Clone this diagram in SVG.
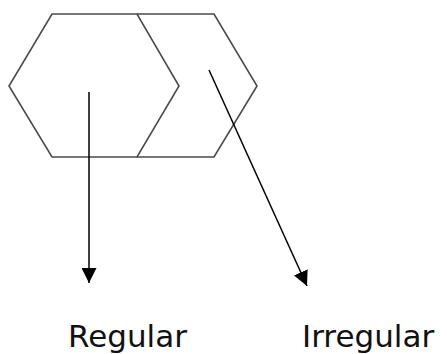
<svg xmlns="http://www.w3.org/2000/svg" width="447" height="354" viewBox="0 0 447 354">
<style>
.shape{fill:none;stroke:#4a4a4a;stroke-width:1.6;stroke-linejoin:miter}
.conn{stroke:#000;stroke-width:1.5;fill:none}
.lbl{font-family:"DejaVu Sans",Verdana,sans-serif;font-size:31px;fill:#111}
</style>
<defs>
<marker id="ah" viewBox="0 0 10 10" refX="10" refY="5" markerWidth="15" markerHeight="15" markerUnits="userSpaceOnUse" orient="auto">
<path d="M0,0 L10,5 L0,10 z" fill="#000"/>
</marker>
</defs>
<rect width="447" height="354" fill="#fff"/>
<g id="regular">
<polygon class="shape" points="52,14 137,14 179,86 137,157 52,157 9,86"/>
</g>
<g id="irregular">
<polyline class="shape" points="137,14 214,14 257,86 214,157 137,157"/>
</g>
<g id="connectors">
<line class="conn" x1="89" y1="92" x2="89" y2="283" marker-end="url(#ah)"/>
<line class="conn" x1="209" y1="70" x2="307" y2="286" marker-end="url(#ah)"/>
</g>
<g id="labels">
<text class="lbl" x="68" y="347">Regular</text>
<text class="lbl" x="302" y="347">Irregular</text>
</g>
</svg>
